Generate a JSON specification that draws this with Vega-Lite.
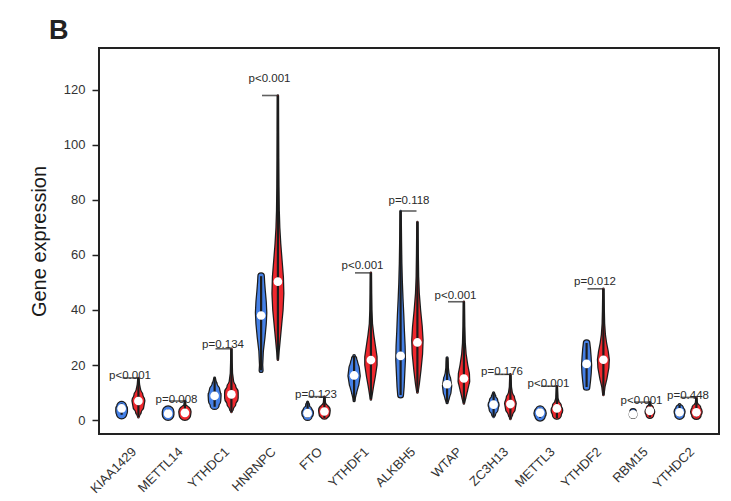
{
  "$schema": "https://vega.github.io/schema/vega-lite/v6.json",
  "width": 620,
  "height": 386,
  "autosize": {"type": "none"},
  "padding": {"left": 99, "top": 48, "right": 12, "bottom": 67},
  "background": "white",
  "title": {"text": "B", "fontSize": 27, "fontWeight": "bold", "font": "Liberation Sans", "color": "#222", "anchor": "start", "frame": "group", "baseline": "alphabetic", "offset": 3, "dx": -50, "dy": 21},
  "config": {
    "view": {"stroke": "#222", "strokeWidth": 2},
    "font": "Liberation Sans",
    "axis": {"grid": false, "domain": false, "labelColor": "#333", "labelFont": "Liberation Sans", "titleFont": "Liberation Sans"}
  },
  "datasets": {
    "violin": [
      {"gene":"KIAA1429","grp":"Normal","v":1.9,"d":0.3},{"gene":"KIAA1429","grp":"Normal","v":2.3,"d":0.7},{"gene":"KIAA1429","grp":"Normal","v":3,"d":0.8},{"gene":"KIAA1429","grp":"Normal","v":4,"d":0.8},{"gene":"KIAA1429","grp":"Normal","v":5,"d":0.65},{"gene":"KIAA1429","grp":"Normal","v":5.6,"d":0.4},{"gene":"KIAA1429","grp":"Normal","v":6,"d":0.1},
      {"gene":"KIAA1429","grp":"Tumor","v":1,"d":0},{"gene":"KIAA1429","grp":"Tumor","v":3,"d":0.35},{"gene":"KIAA1429","grp":"Tumor","v":5,"d":0.75},{"gene":"KIAA1429","grp":"Tumor","v":7,"d":0.9},{"gene":"KIAA1429","grp":"Tumor","v":9,"d":0.6},{"gene":"KIAA1429","grp":"Tumor","v":11,"d":0.25},{"gene":"KIAA1429","grp":"Tumor","v":13,"d":0.08},{"gene":"KIAA1429","grp":"Tumor","v":15.3,"d":0},
      {"gene":"METTL14","grp":"Normal","v":1.5,"d":0.3},{"gene":"METTL14","grp":"Normal","v":2,"d":0.8},{"gene":"METTL14","grp":"Normal","v":3,"d":0.8},{"gene":"METTL14","grp":"Normal","v":3.7,"d":0.4},{"gene":"METTL14","grp":"Normal","v":4,"d":0.1},
      {"gene":"METTL14","grp":"Tumor","v":1.5,"d":0.3},{"gene":"METTL14","grp":"Tumor","v":2,"d":0.8},{"gene":"METTL14","grp":"Tumor","v":3,"d":0.85},{"gene":"METTL14","grp":"Tumor","v":4,"d":0.5},{"gene":"METTL14","grp":"Tumor","v":4.5,"d":0.1},{"gene":"METTL14","grp":"Tumor","v":6.9,"d":0},
      {"gene":"YTHDC1","grp":"Normal","v":4.8,"d":0.2},{"gene":"YTHDC1","grp":"Normal","v":5.5,"d":0.6},{"gene":"YTHDC1","grp":"Normal","v":7,"d":0.85},{"gene":"YTHDC1","grp":"Normal","v":9,"d":0.9},{"gene":"YTHDC1","grp":"Normal","v":11,"d":0.7},{"gene":"YTHDC1","grp":"Normal","v":13,"d":0.3},{"gene":"YTHDC1","grp":"Normal","v":14.5,"d":0.1},{"gene":"YTHDC1","grp":"Normal","v":15.3,"d":0.03},
      {"gene":"YTHDC1","grp":"Tumor","v":2.9,"d":0},{"gene":"YTHDC1","grp":"Tumor","v":4,"d":0.2},{"gene":"YTHDC1","grp":"Tumor","v":6,"d":0.6},{"gene":"YTHDC1","grp":"Tumor","v":8,"d":0.95},{"gene":"YTHDC1","grp":"Tumor","v":10,"d":0.95},{"gene":"YTHDC1","grp":"Tumor","v":12,"d":0.6},{"gene":"YTHDC1","grp":"Tumor","v":14,"d":0.25},{"gene":"YTHDC1","grp":"Tumor","v":17,"d":0.08},{"gene":"YTHDC1","grp":"Tumor","v":21,"d":0.03},{"gene":"YTHDC1","grp":"Tumor","v":25.9,"d":0},
      {"gene":"HNRNPC","grp":"Normal","v":18,"d":0.2},{"gene":"HNRNPC","grp":"Normal","v":20,"d":0.15},{"gene":"HNRNPC","grp":"Normal","v":25,"d":0.25},{"gene":"HNRNPC","grp":"Normal","v":30,"d":0.5},{"gene":"HNRNPC","grp":"Normal","v":35,"d":0.7},{"gene":"HNRNPC","grp":"Normal","v":39,"d":0.78},{"gene":"HNRNPC","grp":"Normal","v":43,"d":0.7},{"gene":"HNRNPC","grp":"Normal","v":47,"d":0.55},{"gene":"HNRNPC","grp":"Normal","v":50,"d":0.45},{"gene":"HNRNPC","grp":"Normal","v":52.3,"d":0.4},
      {"gene":"HNRNPC","grp":"Tumor","v":21.9,"d":0},{"gene":"HNRNPC","grp":"Tumor","v":25,"d":0.1},{"gene":"HNRNPC","grp":"Tumor","v":30,"d":0.3},{"gene":"HNRNPC","grp":"Tumor","v":35,"d":0.5},{"gene":"HNRNPC","grp":"Tumor","v":40,"d":0.7},{"gene":"HNRNPC","grp":"Tumor","v":46,"d":0.82},{"gene":"HNRNPC","grp":"Tumor","v":52,"d":0.75},{"gene":"HNRNPC","grp":"Tumor","v":58,"d":0.55},{"gene":"HNRNPC","grp":"Tumor","v":64,"d":0.35},{"gene":"HNRNPC","grp":"Tumor","v":70,"d":0.2},{"gene":"HNRNPC","grp":"Tumor","v":76,"d":0.12},{"gene":"HNRNPC","grp":"Tumor","v":85,"d":0.07},{"gene":"HNRNPC","grp":"Tumor","v":95,"d":0.04},{"gene":"HNRNPC","grp":"Tumor","v":105,"d":0.02},{"gene":"HNRNPC","grp":"Tumor","v":118,"d":0},
      {"gene":"FTO","grp":"Normal","v":0.8,"d":0.1},{"gene":"FTO","grp":"Normal","v":1.5,"d":0.6},{"gene":"FTO","grp":"Normal","v":2.5,"d":0.8},{"gene":"FTO","grp":"Normal","v":3.5,"d":0.6},{"gene":"FTO","grp":"Normal","v":4.5,"d":0.25},{"gene":"FTO","grp":"Normal","v":5.5,"d":0.2},{"gene":"FTO","grp":"Normal","v":6.5,"d":0.05},
      {"gene":"FTO","grp":"Tumor","v":0.7,"d":0},{"gene":"FTO","grp":"Tumor","v":1.5,"d":0.4},{"gene":"FTO","grp":"Tumor","v":2.5,"d":0.75},{"gene":"FTO","grp":"Tumor","v":3.5,"d":0.8},{"gene":"FTO","grp":"Tumor","v":4.5,"d":0.5},{"gene":"FTO","grp":"Tumor","v":5.5,"d":0.2},{"gene":"FTO","grp":"Tumor","v":6.5,"d":0.06},{"gene":"FTO","grp":"Tumor","v":8.5,"d":0},
      {"gene":"YTHDF1","grp":"Normal","v":7,"d":0.05},{"gene":"YTHDF1","grp":"Normal","v":8,"d":0.1},{"gene":"YTHDF1","grp":"Normal","v":10,"d":0.3},{"gene":"YTHDF1","grp":"Normal","v":13,"d":0.65},{"gene":"YTHDF1","grp":"Normal","v":16,"d":0.85},{"gene":"YTHDF1","grp":"Normal","v":19,"d":0.7},{"gene":"YTHDF1","grp":"Normal","v":21,"d":0.45},{"gene":"YTHDF1","grp":"Normal","v":22.3,"d":0.3},{"gene":"YTHDF1","grp":"Normal","v":23.3,"d":0.1},
      {"gene":"YTHDF1","grp":"Tumor","v":7.5,"d":0},{"gene":"YTHDF1","grp":"Tumor","v":9,"d":0.1},{"gene":"YTHDF1","grp":"Tumor","v":12,"d":0.3},{"gene":"YTHDF1","grp":"Tumor","v":16,"d":0.6},{"gene":"YTHDF1","grp":"Tumor","v":20,"d":0.85},{"gene":"YTHDF1","grp":"Tumor","v":23,"d":0.85},{"gene":"YTHDF1","grp":"Tumor","v":27,"d":0.6},{"gene":"YTHDF1","grp":"Tumor","v":31,"d":0.35},{"gene":"YTHDF1","grp":"Tumor","v":35,"d":0.15},{"gene":"YTHDF1","grp":"Tumor","v":40,"d":0.07},{"gene":"YTHDF1","grp":"Tumor","v":46,"d":0.03},{"gene":"YTHDF1","grp":"Tumor","v":53.5,"d":0},
      {"gene":"ALKBH5","grp":"Normal","v":9.1,"d":0.35},{"gene":"ALKBH5","grp":"Normal","v":12,"d":0.45},{"gene":"ALKBH5","grp":"Normal","v":17,"d":0.55},{"gene":"ALKBH5","grp":"Normal","v":22,"d":0.65},{"gene":"ALKBH5","grp":"Normal","v":27,"d":0.6},{"gene":"ALKBH5","grp":"Normal","v":32,"d":0.5},{"gene":"ALKBH5","grp":"Normal","v":38,"d":0.4},{"gene":"ALKBH5","grp":"Normal","v":44,"d":0.28},{"gene":"ALKBH5","grp":"Normal","v":50,"d":0.18},{"gene":"ALKBH5","grp":"Normal","v":57,"d":0.1},{"gene":"ALKBH5","grp":"Normal","v":65,"d":0.05},{"gene":"ALKBH5","grp":"Normal","v":76,"d":0},
      {"gene":"ALKBH5","grp":"Tumor","v":10,"d":0},{"gene":"ALKBH5","grp":"Tumor","v":13,"d":0.2},{"gene":"ALKBH5","grp":"Tumor","v":18,"d":0.45},{"gene":"ALKBH5","grp":"Tumor","v":24,"d":0.7},{"gene":"ALKBH5","grp":"Tumor","v":29,"d":0.78},{"gene":"ALKBH5","grp":"Tumor","v":34,"d":0.65},{"gene":"ALKBH5","grp":"Tumor","v":40,"d":0.4},{"gene":"ALKBH5","grp":"Tumor","v":46,"d":0.2},{"gene":"ALKBH5","grp":"Tumor","v":52,"d":0.1},{"gene":"ALKBH5","grp":"Tumor","v":60,"d":0.05},{"gene":"ALKBH5","grp":"Tumor","v":72,"d":0},
      {"gene":"WTAP","grp":"Normal","v":6.3,"d":0.05},{"gene":"WTAP","grp":"Normal","v":8,"d":0.25},{"gene":"WTAP","grp":"Normal","v":10,"d":0.5},{"gene":"WTAP","grp":"Normal","v":12.5,"d":0.62},{"gene":"WTAP","grp":"Normal","v":15,"d":0.45},{"gene":"WTAP","grp":"Normal","v":17,"d":0.2},{"gene":"WTAP","grp":"Normal","v":19,"d":0.1},{"gene":"WTAP","grp":"Normal","v":21,"d":0.08},{"gene":"WTAP","grp":"Normal","v":22.6,"d":0.05},
      {"gene":"WTAP","grp":"Tumor","v":6,"d":0},{"gene":"WTAP","grp":"Tumor","v":8,"d":0.2},{"gene":"WTAP","grp":"Tumor","v":11,"d":0.5},{"gene":"WTAP","grp":"Tumor","v":14,"d":0.8},{"gene":"WTAP","grp":"Tumor","v":17,"d":0.75},{"gene":"WTAP","grp":"Tumor","v":20,"d":0.5},{"gene":"WTAP","grp":"Tumor","v":24,"d":0.25},{"gene":"WTAP","grp":"Tumor","v":28,"d":0.12},{"gene":"WTAP","grp":"Tumor","v":34,"d":0.05},{"gene":"WTAP","grp":"Tumor","v":43,"d":0},
      {"gene":"ZC3H13","grp":"Normal","v":1.1,"d":0},{"gene":"ZC3H13","grp":"Normal","v":2,"d":0.2},{"gene":"ZC3H13","grp":"Normal","v":4,"d":0.6},{"gene":"ZC3H13","grp":"Normal","v":5.5,"d":0.75},{"gene":"ZC3H13","grp":"Normal","v":7,"d":0.55},{"gene":"ZC3H13","grp":"Normal","v":8.5,"d":0.25},{"gene":"ZC3H13","grp":"Normal","v":9.9,"d":0.05},
      {"gene":"ZC3H13","grp":"Tumor","v":0.4,"d":0},{"gene":"ZC3H13","grp":"Tumor","v":2,"d":0.25},{"gene":"ZC3H13","grp":"Tumor","v":4,"d":0.65},{"gene":"ZC3H13","grp":"Tumor","v":6,"d":0.8},{"gene":"ZC3H13","grp":"Tumor","v":8,"d":0.55},{"gene":"ZC3H13","grp":"Tumor","v":10,"d":0.2},{"gene":"ZC3H13","grp":"Tumor","v":12,"d":0.07},{"gene":"ZC3H13","grp":"Tumor","v":16.6,"d":0},
      {"gene":"METTL3","grp":"Normal","v":0.8,"d":0.2},{"gene":"METTL3","grp":"Normal","v":1.5,"d":0.7},{"gene":"METTL3","grp":"Normal","v":2.5,"d":0.85},{"gene":"METTL3","grp":"Normal","v":3.5,"d":0.6},{"gene":"METTL3","grp":"Normal","v":4.4,"d":0.1},
      {"gene":"METTL3","grp":"Tumor","v":0.7,"d":0.1},{"gene":"METTL3","grp":"Tumor","v":2,"d":0.6},{"gene":"METTL3","grp":"Tumor","v":3.5,"d":0.8},{"gene":"METTL3","grp":"Tumor","v":5,"d":0.6},{"gene":"METTL3","grp":"Tumor","v":6.5,"d":0.25},{"gene":"METTL3","grp":"Tumor","v":8,"d":0.08},{"gene":"METTL3","grp":"Tumor","v":12.3,"d":0},
      {"gene":"YTHDF2","grp":"Normal","v":12,"d":0.4},{"gene":"YTHDF2","grp":"Normal","v":14,"d":0.5},{"gene":"YTHDF2","grp":"Normal","v":17,"d":0.62},{"gene":"YTHDF2","grp":"Normal","v":20,"d":0.68},{"gene":"YTHDF2","grp":"Normal","v":23,"d":0.6},{"gene":"YTHDF2","grp":"Normal","v":26,"d":0.5},{"gene":"YTHDF2","grp":"Normal","v":28,"d":0.4},
      {"gene":"YTHDF2","grp":"Tumor","v":9.1,"d":0},{"gene":"YTHDF2","grp":"Tumor","v":12,"d":0.15},{"gene":"YTHDF2","grp":"Tumor","v":15,"d":0.45},{"gene":"YTHDF2","grp":"Tumor","v":19,"d":0.75},{"gene":"YTHDF2","grp":"Tumor","v":22,"d":0.82},{"gene":"YTHDF2","grp":"Tumor","v":25,"d":0.65},{"gene":"YTHDF2","grp":"Tumor","v":28,"d":0.4},{"gene":"YTHDF2","grp":"Tumor","v":31,"d":0.22},{"gene":"YTHDF2","grp":"Tumor","v":35,"d":0.1},{"gene":"YTHDF2","grp":"Tumor","v":40,"d":0.05},{"gene":"YTHDF2","grp":"Tumor","v":47.7,"d":0},
      {"gene":"RBM15","grp":"Normal","v":1.3,"d":0.2},{"gene":"RBM15","grp":"Normal","v":2,"d":0.5},{"gene":"RBM15","grp":"Normal","v":3,"d":0.4},{"gene":"RBM15","grp":"Normal","v":3.6,"d":0.1},
      {"gene":"RBM15","grp":"Tumor","v":1.1,"d":0.1},{"gene":"RBM15","grp":"Tumor","v":2,"d":0.5},{"gene":"RBM15","grp":"Tumor","v":3,"d":0.65},{"gene":"RBM15","grp":"Tumor","v":4.2,"d":0.45},{"gene":"RBM15","grp":"Tumor","v":5.2,"d":0.15},{"gene":"RBM15","grp":"Tumor","v":6.5,"d":0},
      {"gene":"YTHDC2","grp":"Normal","v":1.2,"d":0.2},{"gene":"YTHDC2","grp":"Normal","v":2,"d":0.65},{"gene":"YTHDC2","grp":"Normal","v":3,"d":0.75},{"gene":"YTHDC2","grp":"Normal","v":4.2,"d":0.5},{"gene":"YTHDC2","grp":"Normal","v":5.5,"d":0.1},
      {"gene":"YTHDC2","grp":"Tumor","v":1,"d":0.2},{"gene":"YTHDC2","grp":"Tumor","v":2,"d":0.65},{"gene":"YTHDC2","grp":"Tumor","v":3,"d":0.8},{"gene":"YTHDC2","grp":"Tumor","v":4.2,"d":0.6},{"gene":"YTHDC2","grp":"Tumor","v":5.5,"d":0.2},{"gene":"YTHDC2","grp":"Tumor","v":6.5,"d":0.05},{"gene":"YTHDC2","grp":"Tumor","v":8.2,"d":0}
    ],
    "median": [
      {"gene":"KIAA1429","grp":"Normal","m":4.2},{"gene":"KIAA1429","grp":"Tumor","m":6.9},
      {"gene":"METTL14","grp":"Normal","m":2.3},{"gene":"METTL14","grp":"Tumor","m":2.6},
      {"gene":"YTHDC1","grp":"Normal","m":8.8},{"gene":"YTHDC1","grp":"Tumor","m":9.3},
      {"gene":"HNRNPC","grp":"Normal","m":38},{"gene":"HNRNPC","grp":"Tumor","m":50.3},
      {"gene":"FTO","grp":"Normal","m":2.5},{"gene":"FTO","grp":"Tumor","m":3.1},
      {"gene":"YTHDF1","grp":"Normal","m":16.2},{"gene":"YTHDF1","grp":"Tumor","m":21.8},
      {"gene":"ALKBH5","grp":"Normal","m":23.3},{"gene":"ALKBH5","grp":"Tumor","m":28.2},
      {"gene":"WTAP","grp":"Normal","m":13},{"gene":"WTAP","grp":"Tumor","m":15.1},
      {"gene":"ZC3H13","grp":"Normal","m":5.6},{"gene":"ZC3H13","grp":"Tumor","m":5.8},
      {"gene":"METTL3","grp":"Normal","m":2.7},{"gene":"METTL3","grp":"Tumor","m":4.2},
      {"gene":"YTHDF2","grp":"Normal","m":20.4},{"gene":"YTHDF2","grp":"Tumor","m":21.9},
      {"gene":"RBM15","grp":"Normal","m":2.1},{"gene":"RBM15","grp":"Tumor","m":3.3},
      {"gene":"YTHDC2","grp":"Normal","m":2.8},{"gene":"YTHDC2","grp":"Tumor","m":2.8}
    ],
    "pval": [
      {"gene":"KIAA1429","p":"p<0.001","top":15.3},
      {"gene":"METTL14","p":"p=0.008","top":6.9},
      {"gene":"YTHDC1","p":"p=0.134","top":25.9},
      {"gene":"HNRNPC","p":"p<0.001","top":118},
      {"gene":"FTO","p":"p=0.123","top":8.5},
      {"gene":"YTHDF1","p":"p<0.001","top":53.5},
      {"gene":"ALKBH5","p":"p=0.118","top":76},
      {"gene":"WTAP","p":"p<0.001","top":43},
      {"gene":"ZC3H13","p":"p=0.176","top":16.6},
      {"gene":"METTL3","p":"p<0.001","top":12.3},
      {"gene":"YTHDF2","p":"p=0.012","top":47.7},
      {"gene":"RBM15","p":"p<0.001","top":6.5},
      {"gene":"YTHDC2","p":"p=0.448","top":8.2}
    ]
  },
  "layer": [
    {
      "data": {"name": "violin"},
      "mark": {"type": "trail", "color": "#1c1c1c"},
      "encoding": {
        "x": {"field": "gene", "type": "nominal", "sort": null,
              "scale": {"type": "band", "paddingInner": 0, "paddingOuter": 0.167, "domain": ["KIAA1429","METTL14","YTHDC1","HNRNPC","FTO","YTHDF1","ALKBH5","WTAP","ZC3H13","METTL3","YTHDF2","RBM15","YTHDC2"]},
              "axis": {"title": null, "labelAngle": -45, "labelAlign": "right", "labelBaseline": "top", "labelFontSize": 13, "ticks": false, "labelPadding": 11}},
        "xOffset": {"field": "grp", "type": "nominal", "scale": {"type": "band", "domain": ["Normal","Tumor"], "paddingInner": 0, "paddingOuter": 0.384}},
        "y": {"field": "v", "type": "quantitative",
              "scale": {"domain": [-5.09, 135.27], "nice": false, "zero": false},
              "axis": {"title": "Gene expression", "values": [0,20,40,60,80,100,120], "tickSize": 7, "tickColor": "#222", "tickWidth": 1.5, "labelFontSize": 13, "labelPadding": 7, "titleFontSize": 20, "titleFontWeight": "normal", "titleColor": "#1a1a1a", "titlePadding": 14}},
        "size": {"field": "d", "type": "quantitative", "scale": {"domain": [0, 1], "range": [2.5, 15.5]}, "legend": null},
        "detail": [{"field": "gene"}, {"field": "grp"}],
        "order": {"field": "v", "type": "quantitative"}
      }
    },
    {
      "data": {"name": "violin"},
      "mark": {"type": "trail"},
      "encoding": {
        "x": {"field": "gene", "type": "nominal", "sort": null},
        "xOffset": {"field": "grp", "type": "nominal"},
        "y": {"field": "v", "type": "quantitative"},
        "size": {"field": "d", "type": "quantitative", "scale": {"domain": [0, 1], "range": [0, 13]}, "legend": null},
        "color": {"field": "grp", "type": "nominal", "scale": {"domain": ["Normal","Tumor"], "range": ["#4580e6", "#ee282e"]}, "legend": null},
        "detail": [{"field": "gene"}, {"field": "grp"}],
        "order": {"field": "v", "type": "quantitative"}
      }
    },
    {
      "data": {"name": "violin"},
      "mark": {"type": "rule", "color": "#1c1c1c", "strokeWidth": 2.2},
      "encoding": {
        "x": {"field": "gene", "type": "nominal", "sort": null},
        "xOffset": {"field": "grp", "type": "nominal"},
        "y": {"aggregate": "min", "field": "v", "type": "quantitative"},
        "y2": {"aggregate": "max", "field": "v"}
      }
    },
    {
      "data": {"name": "median"},
      "mark": {"type": "point", "filled": true, "color": "white", "opacity": 1, "size": 75},
      "encoding": {
        "x": {"field": "gene", "type": "nominal", "sort": null},
        "xOffset": {"field": "grp", "type": "nominal"},
        "y": {"field": "m", "type": "quantitative"}
      }
    },
    {
      "data": {"name": "pval"},
      "mark": {"type": "tick", "orient": "horizontal", "size": 15, "thickness": 1.6, "color": "#1c1c1c"},
      "encoding": {
        "x": {"field": "gene", "type": "nominal", "sort": null},
        "y": {"field": "top", "type": "quantitative"}
      }
    },
    {
      "data": {"name": "pval"},
      "transform": [{"calculate": "datum.top * 1.05", "as": "labelY"}],
      "mark": {"type": "text", "fontSize": 11.5, "color": "#2a2a2a", "baseline": "middle", "align": "center"},
      "encoding": {
        "x": {"field": "gene", "type": "nominal", "sort": null},
        "y": {"field": "labelY", "type": "quantitative"},
        "text": {"field": "p"}
      }
    }
  ],
  "resolve": {"scale": {"size": "independent"}}
}
